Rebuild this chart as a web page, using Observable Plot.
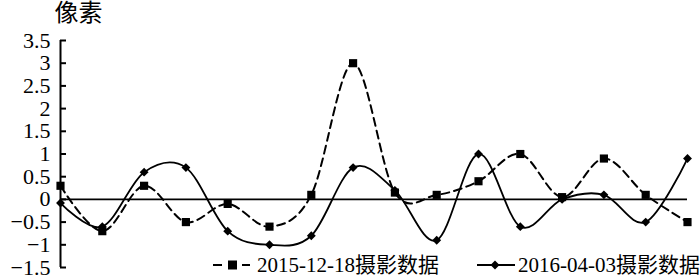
<!DOCTYPE html>
<html><head><meta charset="utf-8">
<script src="https://cdn.jsdelivr.net/npm/d3@7"></script>
<script src="https://cdn.jsdelivr.net/npm/@observablehq/plot@0.6"></script>
<style>
body{margin:0;background:#fff;}
#wrap{position:relative;width:700px;height:277px;font-family:'Liberation Serif',Tinos,'Times New Roman',Times,serif,'Noto Sans CJK SC';}
.leg{position:absolute;top:253px;height:24px;line-height:24px;font-size:21px;color:#000;white-space:nowrap;}
.sw{position:absolute;top:255px;}
</style></head><body>
<div id="wrap"></div>
<script>
const idx = [0,1,2,3,4,5,6,7,8,9,10,11,12,13,14,15];
const s2015 = [0.3,-0.7,0.3,-0.5,-0.1,-0.6,0.1,3.0,0.15,0.1,0.4,1.0,0.05,0.9,0.1,-0.5];
const s2016 = [-0.08,-0.6,0.6,0.7,-0.7,-1.0,-0.8,0.7,0.2,-0.9,1.0,-0.6,0.0,0.1,-0.5,0.9];
const yTicks = [-1.5,-1,-0.5,0,0.5,1,1.5,2,2.5,3,3.5];
const seriesNames = ["2015-12-18摄影数据","2016-04-03摄影数据"];
const yLabel = "像素";

const rows1 = idx.map(i => ({x: i, y: s2015[i]}));
const rows2 = idx.map(i => ({x: i, y: s2016[i]}));
const curve = d3.curveCatmullRom.alpha(0);
const font = "'Liberation Serif',Tinos,'Times New Roman',Times,serif,'Noto Sans CJK SC'";
const fmt = d => (d < 0 ? "\u2212" : "") + String(Math.abs(d));

const chart = Plot.plot({
  width: 700, height: 277,
  marginLeft: 60, marginRight: 13, marginTop: 40, marginBottom: 10,
  style: {fontFamily: font, background: "transparent", overflow: "visible", color: "#000"},
  x: {domain: [0, 15], axis: null},
  y: {domain: [-1.5, 3.5], axis: null},
  marks: [
    Plot.ruleY([0], {stroke: "#000", strokeWidth: 1.6}),
    Plot.ruleX([0], {stroke: "#000", strokeWidth: 2}),
    Plot.axisY(yTicks, {anchor: "left", tickSize: 0, tickPadding: 10, fontSize: 22, label: null, fill: "#000", tickFormat: fmt, fontFamily: font}),
    Plot.axisY(yTicks, {anchor: "left", tickSize: 6, dx: 6, tickFormat: () => "", strokeWidth: 2, stroke: "#000", label: null}),
    Plot.text([yLabel], {frameAnchor: "top-left", dx: 18, dy: -27, fontSize: 24, textAnchor: "middle", lineAnchor: "middle", fill: "#000", fontFamily: font}),
    Plot.line(rows1, {x: "x", y: "y", curve, stroke: "#000", strokeWidth: 2, strokeDasharray: "8,5"}),
    Plot.line(rows2, {x: "x", y: "y", curve, stroke: "#000", strokeWidth: 1.8}),
    Plot.dot(rows1, {x: "x", y: "y", symbol: "square", r: 4.6, fill: "#000", stroke: null}),
    Plot.dot(rows2, {x: "x", y: "y", symbol: "diamond2", r: 4, fill: "#000", stroke: null})
  ]
});
const wrap = document.getElementById("wrap");
wrap.appendChild(chart);

// legend overlay
const sw1 = document.createElement("div");
sw1.className = "sw"; sw1.style.left = "212px";
sw1.innerHTML = '<svg width="42" height="20"><line x1="1" x2="10" y1="10" y2="10" stroke="#000" stroke-width="2"/><rect x="16" y="5.5" width="9" height="9" fill="#000"/><line x1="30" x2="38" y1="10" y2="10" stroke="#000" stroke-width="2"/></svg>';
wrap.appendChild(sw1);
const t1 = document.createElement("div");
t1.className = "leg"; t1.style.left = "257px"; t1.textContent = seriesNames[0];
wrap.appendChild(t1);
const sw2 = document.createElement("div");
sw2.className = "sw"; sw2.style.left = "476px";
sw2.innerHTML = '<svg width="42" height="20"><line x1="1" x2="39" y1="10" y2="10" stroke="#000" stroke-width="2"/><path d="M19,5.5 L23.5,10 L19,14.5 L14.5,10 Z" fill="#000"/></svg>';
wrap.appendChild(sw2);
const t2 = document.createElement("div");
t2.className = "leg"; t2.style.left = "518px"; t2.textContent = seriesNames[1];
wrap.appendChild(t2);
</script>
</body></html>
